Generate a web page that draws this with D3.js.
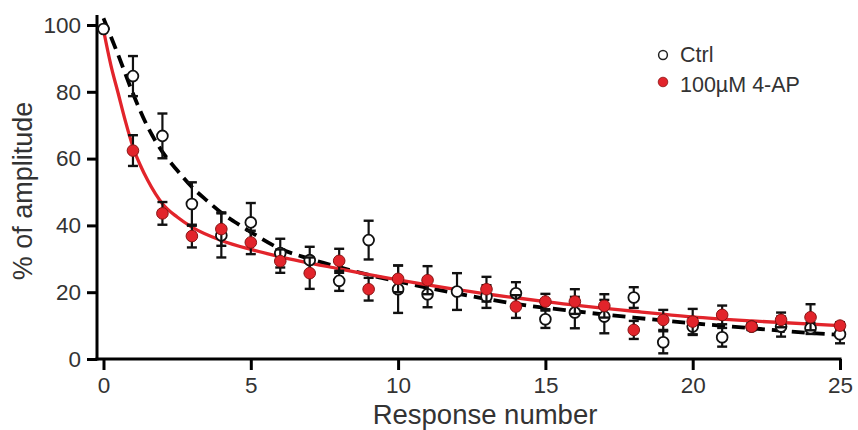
<!DOCTYPE html>
<html>
<head>
<meta charset="utf-8">
<script src="https://cdn.jsdelivr.net/npm/d3@7/dist/d3.min.js"></script>
<style>
  html, body { margin: 0; padding: 0; background: #fff; }
  svg { display: block; font-family: "Liberation Sans", Arial, Helvetica, sans-serif; }
</style>
</head>
<body>
<svg id="chart" width="858" height="430"></svg>
<script>
// ---- Data ----
const responses = [0,1,2,3,4,5,6,7,8,9,10,11,12,13,14,15,16,17,18,19,20,21,22,23,24,25];
const ctrlMean = [98.8,84.7,66.8,46.4,37.0,40.9,31.7,29.6,23.4,35.6,20.9,19.4,20.2,18.7,19.7,11.9,13.9,12.7,18.4,5.0,9.7,6.5,9.7,9.7,9.2,7.4];
const ctrlErr  = [0,6.0,6.7,6.5,6.6,5.8,4.3,4.0,3.0,5.8,7.1,3.9,5.5,3.4,3.3,2.6,4.7,5.0,3.1,3.3,2.5,2.8,1.0,3.0,1.7,2.7];
const apMean   = [null,62.4,43.6,36.8,38.9,34.9,29.3,25.7,29.4,20.9,24.0,23.6,null,20.9,15.7,17.2,17.2,15.9,8.7,11.7,11.2,13.2,9.7,11.7,12.5,10.0];
const apErr    = [0,4.6,3.4,3.4,5.0,3.5,3.5,4.7,3.6,3.4,4.0,4.2,0,3.7,3.4,2.3,3.7,3.5,2.7,3.0,3.8,2.8,1.0,2.2,3.9,1.0];

// fitted curves (points read along the drawn fits)
const ctrlFitX = [0,0.5,1,1.5,2,2.5,3,3.5,4,4.5,5,6,7,8,9,10,12,14,16,18,20,22,24,25];
const ctrlFitY = [102,91,79.5,69.5,62,56.5,51.5,47.5,43.8,40.8,38,33,30,27.5,25.2,23.2,19.6,16.5,14.3,12.4,10.7,9.2,7.8,7.2];
const apFitX = [0,0.25,0.5,0.75,1,1.25,1.5,2,2.5,3,4,5,6,8,10,12,15,18,20,22,25];
const apFitY = [98.5,88,79.5,71,63.5,58,53.5,46.5,42.5,39.5,35.5,32.8,30.6,27,23.7,20.8,17.2,14.3,12.6,11.4,10];

const xTicks = [0,5,10,15,20,25];
const yTicks = [0,20,40,60,80,100];
const legendLabels = ["Ctrl", "100\u00B5M 4-AP"];
const xTitle = "Response number";
const yTitle = "% of amplitude";

// ---- Drawing ----
const RED = "#e2242b";
const TXT = "#333333";
const svg = d3.select("#chart");

const x = d3.scaleLinear().domain([0,25]).range([103.5,840]);
const y = d3.scaleLinear().domain([0,100]).range([359,25]);
const axisX0 = 97;

// axes
const xAxis = d3.axisBottom(x).tickValues(xTicks).tickSize(11).tickPadding(7).tickFormat(d3.format("d"));
const gx = svg.append("g").attr("transform", `translate(0,${y(0)})`).call(xAxis);
gx.select(".domain").remove();
gx.selectAll(".tick line").attr("stroke", "#000").attr("stroke-width", 3);
gx.selectAll(".tick text").attr("fill", TXT).attr("font-size", 22.5).attr("font-family", "Liberation Sans, Arial, sans-serif");
svg.append("line").attr("x1", axisX0 - 1.5).attr("x2", x(25) + 1.5)
  .attr("y1", y(0)).attr("y2", y(0)).attr("stroke", "#000").attr("stroke-width", 3);

const yAxis = d3.axisLeft(y).tickValues(yTicks).tickSize(10).tickPadding(6).tickFormat(d3.format("d"));
const gy = svg.append("g").attr("transform", `translate(${axisX0},0)`).call(yAxis);
gy.select(".domain").remove();
gy.selectAll(".tick line").attr("stroke", "#000").attr("stroke-width", 3);
gy.selectAll(".tick text").attr("fill", TXT).attr("font-size", 22.5).attr("font-family", "Liberation Sans, Arial, sans-serif");
svg.append("line").attr("x1", axisX0).attr("x2", axisX0)
  .attr("y1", y(0) + 1.5).attr("y2", y(103)).attr("stroke", "#000").attr("stroke-width", 3);

// titles
svg.append("text").attr("x", 485).attr("y", 424).attr("text-anchor", "middle")
  .attr("font-size", 27.5).attr("fill", TXT).text(xTitle);
svg.append("text").attr("transform", "translate(32,191) rotate(-90)").attr("text-anchor", "middle")
  .attr("font-size", 27).attr("fill", TXT).text(yTitle);

// fit curves
const ctrlFit = ctrlFitX.map((d, i) => [d, ctrlFitY[i]]);
const apFit = apFitX.map((d, i) => [d, apFitY[i]]);
const line = d3.line().x(d => x(d[0])).y(d => y(d[1])).curve(d3.curveMonotoneX);
svg.append("path").attr("d", line(ctrlFit)).attr("fill", "none")
  .attr("stroke", "#000").attr("stroke-width", 3.8).attr("stroke-dasharray", "13,7");
svg.append("path").attr("d", line(apFit)).attr("fill", "none")
  .attr("stroke", RED).attr("stroke-width", 3.3);

// error bars + markers
function drawSeries(means, errs, fill, stroke, sw, r) {
  const data = responses.map((d, i) => ({r: d, m: means[i], e: errs[i]})).filter(d => d.m !== null);
  const g = svg.append("g");
  const eb = data.filter(d => d.e > 0);
  g.selectAll("line.v").data(eb).join("line")
    .attr("x1", d => x(d.r)).attr("x2", d => x(d.r))
    .attr("y1", d => y(d.m - d.e)).attr("y2", d => y(d.m + d.e))
    .attr("stroke", "#111").attr("stroke-width", 2.2);
  ["lo", "hi"].forEach(s => {
    g.selectAll("line.c" + s).data(eb).join("line")
      .attr("x1", d => x(d.r) - 5).attr("x2", d => x(d.r) + 5)
      .attr("y1", d => y(s === "lo" ? d.m - d.e : d.m + d.e))
      .attr("y2", d => y(s === "lo" ? d.m - d.e : d.m + d.e))
      .attr("stroke", "#111").attr("stroke-width", 2.4);
  });
  g.selectAll("circle").data(data).join("circle")
    .attr("cx", d => x(d.r)).attr("cy", d => y(d.m)).attr("r", r)
    .attr("fill", fill).attr("stroke", stroke).attr("stroke-width", sw);
}
drawSeries(ctrlMean, ctrlErr, "#fff", "#111", 1.8, 5.4);
drawSeries(apMean, apErr, RED, "#8a1414", 1, 5.8);

// legend
const lg = svg.append("g");
lg.append("circle").attr("cx", 663).attr("cy", 55).attr("r", 4.4).attr("fill", "#fff").attr("stroke", "#222").attr("stroke-width", 1.5);
lg.append("circle").attr("cx", 663).attr("cy", 82).attr("r", 4.8).attr("fill", RED).attr("stroke", "#8a1414").attr("stroke-width", 0.8);
lg.append("text").attr("x", 680).attr("y", 62).attr("font-size", 21.5).attr("fill", TXT).text(legendLabels[0]);
lg.append("text").attr("x", 680).attr("y", 92).attr("font-size", 21.5).attr("fill", TXT).text(legendLabels[1]);
</script>
</body>
</html>
